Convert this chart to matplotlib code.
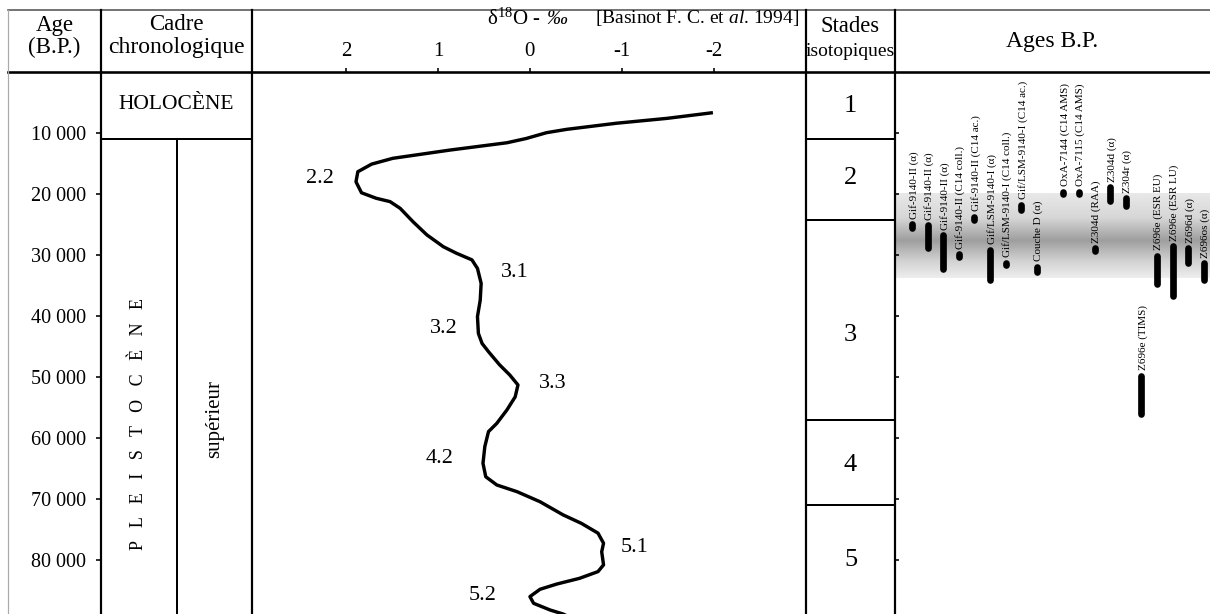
import numpy as np
import matplotlib
matplotlib.use("Agg")
import matplotlib.pyplot as plt
from matplotlib.lines import Line2D

plt.rcParams['font.family'] = ['Liberation Serif', 'DejaVu Serif']
plt.rcParams['mathtext.fontset'] = 'custom'
plt.rcParams['mathtext.rm'] = 'Liberation Serif'
plt.rcParams['mathtext.it'] = 'Liberation Serif:italic'

# d18O curve (Basinot F. C. et al. 1994)
d18o = [-1.97, -1.49, -0.94, -0.40, -0.18, 0.04, 0.25, 0.87, 1.49, 1.72, 1.87,
        1.89, 1.83, 1.67, 1.52, 1.41, 1.27, 1.12, 0.94, 0.80, 0.63, 0.57, 0.53,
        0.54, 0.57, 0.56, 0.52, 0.45, 0.33, 0.22, 0.13, 0.16, 0.25, 0.36, 0.45,
        0.49, 0.51, 0.48, 0.36, 0.14, -0.11, -0.36, -0.56, -0.74, -0.80, -0.78,
        -0.80, -0.74, -0.54, -0.29, -0.11, 0.00, -0.04, -0.22, -0.36, -0.42]
curve_age = [6700, 7600, 8400, 9400, 9950, 10900, 11600, 12800, 14150, 15100,
             16350, 18000, 19800, 20700, 21250, 22350, 24550, 26700, 28650,
             29700, 30800, 32200, 34650, 37400, 40100, 42850, 44500, 45850,
             48000, 49650, 51300, 53250, 55400, 57600, 58950, 61400, 64150,
             66350, 67700, 68800, 70450, 72600, 74000, 75600, 77250, 78650,
             80800, 81900, 83000, 83950, 84800, 86000, 87100, 88200, 88850, 89300]

curve_labels = ['2.2', '3.1', '3.2', '3.3', '4.2', '5.1', '5.2']
curve_label_d18o = [2.28, 0.16, 0.94, -0.25, 0.98, -1.14, 0.51]
curve_label_age = [17400, 32900, 42000, 51000, 63300, 77900, 85900]

age_ticks = [10000, 20000, 30000, 40000, 50000, 60000, 70000, 80000]
age_tick_labels = ['10 000', '20 000', '30 000', '40 000', '50 000',
                   '60 000', '70 000', '80 000']
d18o_ticks = [2, 1, 0, -1, -2]
d18o_tick_labels = ['2', '1', '0', '-1', '-2']

holocene_limit = 11000
stage_limits = [11000, 24300, 57000, 71000]
stage_names = ['1', '2', '3', '4', '5']
stage_label_age = [5600, 17400, 43100, 64400, 80000]

# datings: label, column slot, youngest / oldest age of the bar
date_labels = ['Gif-9140-II (α)', 'Gif-9140-II (α)', 'Gif-9140-II (α)',
               'Gif-9140-II (C14 coll.)', 'Gif-9140-II (C14 ac.)',
               'Gif/LSM-9140-I (α)', 'Gif/LSM-9140-I (C14 coll.)',
               'Gif/LSM-9140-I (C14 ac.)', 'Couche D (α)',
               'OxA-7144 (C14 AMS)', 'OxA-7115 (C14 AMS)', 'Z304d (RAA)',
               'Z304d (α)', 'Z304r (α)', 'Z696e (TIMS)', 'Z696e (ESR EU)',
               'Z696e (ESR LU)', 'Z696d (α)', 'Z696os (α)']
date_slot = [0, 1, 2, 3, 4, 5, 6, 7, 8, 9.7, 10.7, 11.7, 12.7, 13.7, 14.7,
             15.7, 16.7, 17.7, 18.7]
date_young = [24400, 24550, 26250, 29300, 23200, 28550, 30700, 21230, 31360,
              19100, 19100, 28300, 18350, 20120, 49250, 29590, 28050, 28350, 30800]
date_old = [26100, 29450, 32800, 30800, 24800, 34600, 32150, 23130, 33350,
            20500, 20500, 29830, 21720, 22580, 56640, 35250, 37260, 31890, 34670]

band_age = [20000, 33800]

W, H = 1210, 614
AGE_MAX = (H - 72) / 0.0061
PT = 72 / 100  # points per pixel

fig = plt.figure(figsize=(W / 100, H / 100), dpi=100)


def rect(x0, x1, y0=72, y1=H):
    return [x0 / W, 1 - y1 / H, (x1 - x0) / W, (y1 - y0) / H]


def fig_line(x0, y0, x1, y1, **kw):
    fig.add_artist(Line2D([x0 / W, x1 / W], [1 - y0 / H, 1 - y1 / H],
                          transform=fig.transFigure, **kw))


def fig_text(x, y, s, **kw):
    kw.setdefault('ha', 'center')
    return fig.text(x / W, 1 - y / H, s, va='center', **kw)


ax_cadre = fig.add_axes(rect(101, 252))
ax_curve = fig.add_axes(rect(252, 806))
ax_stades = fig.add_axes(rect(806, 895))
ax_ages = fig.add_axes(rect(895, 1210))
for ax in [ax_cadre, ax_curve, ax_stades, ax_ages]:
    ax.set_ylim(AGE_MAX, 0)
    ax.set_xticks([])
    ax.set_yticks([])
    for s in ax.spines.values():
        s.set_visible(False)

# --- cadre chronologique
ax_cadre.set_xlim(0, 1)
ax_cadre.axhline(holocene_limit, color='k', lw=2 * PT)
ax_cadre.plot([0.503, 0.503], [holocene_limit, AGE_MAX], color='k', lw=2 * PT)
ax_cadre.text(0.5, 5400, 'HOLOCÈNE', ha='center', va='center', fontsize=15.5)
ax_cadre.text(0.25, 57700, '   '.join('PLEISTOCÈNE'), ha='center', va='center',
              rotation=90, fontsize=13)
ax_cadre.text(0.755, 56900, 'supérieur', ha='center', va='center', rotation=90,
              fontsize=15)
ax_cadre.set_yticks(age_ticks, age_tick_labels)
ax_cadre.tick_params(axis='y', direction='out', length=5 * PT, width=1.6 * PT,
                     pad=10 * PT, labelsize=14.5)

# --- d18O curve
ax_curve.set_xlim(3.02, -3.0)
ax_curve.plot(d18o, curve_age, color='k', lw=3.4 * PT, solid_joinstyle='round')
for lbl, v, a in zip(curve_labels, curve_label_d18o, curve_label_age):
    ax_curve.text(v, a, lbl, ha='center', va='center', fontsize=16)
ax_curve.set_xticks(d18o_ticks, d18o_tick_labels)
ax_curve.tick_params(axis='x', top=True, bottom=False, labeltop=True,
                     labelbottom=False, direction='out', length=4 * PT,
                     width=1.6 * PT, pad=5, labelsize=15)

# --- stades isotopiques
ax_stades.set_xlim(0, 1)
for a in stage_limits:
    ax_stades.axhline(a, color='k', lw=2 * PT)
for name, a in zip(stage_names, stage_label_age):
    ax_stades.text(0.5, a, name, ha='center', va='center', fontsize=19)

# --- ages B.P.
x_lo, x_hi = -1.09, 19.1
ax_ages.set_yticks(age_ticks)
ax_ages.tick_params(axis='y', direction='in', length=4 * PT, width=1.6 * PT,
                    labelleft=False)
shade_y = np.linspace(band_age[0], band_age[1], 200)
shade = np.interp(shade_y, [band_age[0], 24000, 27700, 31000, band_age[1]],
                  [0.91, 0.84, 0.62, 0.82, 0.93])
ax_ages.imshow(shade[:, None], cmap='gray', vmin=0, vmax=1, aspect='auto',
               extent=[x_lo, x_hi, band_age[1], band_age[0]], origin='upper',
               zorder=0)
ax_ages.set_xlim(x_lo, x_hi)
ax_ages.set_ylim(AGE_MAX, 0)

bar_px = 6.7
cap = (bar_px / 2) / 0.0061
for lbl, s, y0, y1 in zip(date_labels, date_slot, date_young, date_old):
    lo, hi = y0 + cap, y1 - cap
    if lo > hi:
        lo = hi = (y0 + y1) / 2
    ax_ages.plot([s, s], [lo, hi], color='k', lw=bar_px * PT,
                 solid_capstyle='round', zorder=3)
    ax_ages.annotate(lbl, (s, y0), xytext=(1.2, 1.5), textcoords='offset points',
                     rotation=90, rotation_mode='anchor', ha='left', va='center',
                     fontsize=8, zorder=4)

# --- table frame
fig_line(8, 10, W, 10, color='#555555', lw=1.6 * PT)
fig_line(8, 72, W, 72, color='k', lw=2.6 * PT)
fig_line(8, 10, 8, H, color='#aaaaaa', lw=1.2 * PT)
for x in [101, 252, 806, 895]:
    fig_line(x, 10, x, H, color='k', lw=2.2 * PT)

# --- header
fig_text(54.5, 25, 'Age', fontsize=16.5)
fig_text(54.5, 47, '(B.P.)', fontsize=16.5)
fig_text(176.5, 25, 'Cadre', fontsize=16.5)
fig_text(176.5, 47, 'chronologique', fontsize=17)
t_d18o = fig_text(487, 19, r'δ$^{18}$O -', ha='left', fontsize=15)
ax_curve.annotate('‰', xy=(1, 0.5), xycoords=t_d18o, xytext=(4, 0),
                  textcoords='offset points', ha='left', va='center',
                  fontsize=15, style='italic', annotation_clip=False)
fig_text(799, 18, r'[Basinot F. C. et $\mathit{al}$. 1994]', ha='right', fontsize=14)
fig_text(850.5, 27, 'Stades', fontsize=16.3)
fig_text(850.5, 51, 'isotopiques', fontsize=14)
fig_text(1052.5, 42, 'Ages B.P.', fontsize=17)

fig.savefig('out.png', dpi=100)
